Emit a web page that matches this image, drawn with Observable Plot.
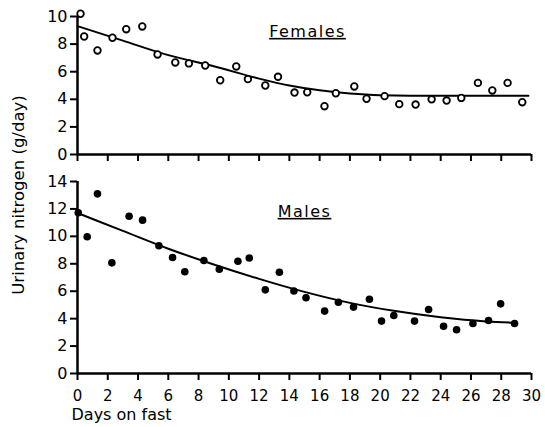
<!DOCTYPE html>
<html><head><meta charset="utf-8">
<script src="https://cdn.jsdelivr.net/npm/d3@7"></script>
<script src="https://cdn.jsdelivr.net/npm/@observablehq/plot@0.6"></script>
<style>
body{margin:0;background:#fff;}
#wrap{position:relative;width:545px;height:427px;font-family:"DejaVu Sans";color:#000;}
#topPanel,#bottomPanel{position:absolute;left:0;}
#topPanel{top:0}
#bottomPanel{top:170px}
#ylab{position:absolute;left:18px;top:195px;transform:translate(-50%,-50%) rotate(-90deg);white-space:nowrap;font-size:16.5px;font-family:"DejaVu Sans";}
svg{overflow:visible}
</style></head>
<body><div id="wrap"><div id="topPanel"></div><div id="bottomPanel"></div><div id="ylab">Urinary nitrogen (g/day)</div></div>
<script>
const xTicks = [0,2,4,6,8,10,12,14,16,18,20,22,24,26,28,30];
const yTicksTop = [0,2,4,6,8,10];
const yTicksBottom = [0,2,4,6,8,10,12,14];

const femaleDays = [0.2,0.44,1.32,2.31,3.22,4.28,5.29,6.46,7.36,8.44,9.43,10.49,11.26,12.41,13.25,14.34,15.18,16.32,17.07,18.29,19.1,20.29,21.26,22.34,23.4,24.39,25.36,26.46,27.41,28.42,29.39];
const femaleN    = [10.2,8.55,7.54,8.46,9.08,9.28,7.25,6.67,6.6,6.45,5.38,6.38,5.46,5.0,5.63,4.49,4.51,3.5,4.44,4.93,4.04,4.23,3.65,3.62,4.0,3.91,4.1,5.19,4.64,5.19,3.79];
const femaleFitDays = [0,3,6,9,12,14,16,18,20,24,29.8];
const femaleFit     = [9.3,8.25,7.2,6.4,5.5,5.0,4.65,4.42,4.3,4.25,4.25];

const maleDays = [0.05,0.64,1.32,2.27,3.41,4.3,5.38,6.28,7.09,8.35,9.37,10.6,11.35,12.41,13.34,14.3,15.1,16.33,17.24,18.24,19.29,20.09,20.9,22.27,23.2,24.19,25.05,26.13,27.16,27.96,28.88];
const maleN    = [11.72,9.97,13.1,8.07,11.47,11.18,9.31,8.46,7.42,8.24,7.6,8.19,8.42,6.1,7.38,6.02,5.52,4.55,5.2,4.84,5.41,3.82,4.23,3.82,4.67,3.45,3.19,3.65,3.87,5.08,3.65];
const maleFitDays = [0,3,6,9,12,15,18,21,24,27,28.9];
const maleFit     = [11.7,10.4,9.1,7.95,6.9,5.95,5.15,4.55,4.1,3.8,3.7];

const females = femaleDays.map((d,i)=>({day:d, n:femaleN[i]}));
const femalesFit = femaleFitDays.map((d,i)=>({day:d, n:femaleFit[i]}));
const males = maleDays.map((d,i)=>({day:d, n:maleN[i]}));
const malesFit = maleFitDays.map((d,i)=>({day:d, n:maleFit[i]}));

const baseStyle = {fontFamily:"DejaVu Sans", fontSize:"16px", color:"black", background:"white", overflow:"visible"};

const topPlot = Plot.plot({
  width:545, height:170, marginLeft:77, marginRight:14, marginTop:16, marginBottom:16,
  style: baseStyle,
  x:{domain:[0,30]}, y:{domain:[0,10]},
  marks:[
    Plot.axisX(xTicks, {tickSize:7, tickFormat:()=>"", strokeWidth:2, label:null}),
    Plot.axisY(yTicksTop, {tickSize:7, tickPadding:3, strokeWidth:2, label:null, fontSize:16}),
    Plot.ruleY([0], {strokeWidth:2.5}),
    Plot.ruleX([0], {strokeWidth:2.5}),
    Plot.line(femalesFit, {x:"day", y:"n", curve:"monotone-x", strokeWidth:2, stroke:"black"}),
    Plot.dot(females, {x:"day", y:"n", r:3.3, stroke:"black", strokeWidth:1.8, fill:"white"}),
    Plot.text(["Females"], {frameAnchor:"top", dx:3, dy:9, fontSize:16, fill:"black"})
  ]
});

const bottomPlot = Plot.plot({
  width:545, height:257, marginLeft:77, marginRight:14, marginTop:11, marginBottom:54,
  style: baseStyle,
  x:{domain:[0,30]}, y:{domain:[0,14]},
  marks:[
    Plot.axisX(xTicks, {tickSize:7, tickPadding:10, strokeWidth:2, label:null, fontSize:15}),
    Plot.axisY(yTicksBottom, {tickSize:7, tickPadding:3, strokeWidth:2, label:null, fontSize:16}),
    Plot.ruleY([0], {strokeWidth:2.5}),
    Plot.ruleX([0], {strokeWidth:2.5}),
    Plot.line(malesFit, {x:"day", y:"n", curve:"monotone-x", strokeWidth:2, stroke:"black"}),
    Plot.dot(males, {x:"day", y:"n", r:3.8, fill:"black"}),
    Plot.text(["Males"], {frameAnchor:"top", dy:24, fontSize:16, fill:"black"}),
    Plot.text(["Days on fast"], {frameAnchor:"bottom-left", dx:-6, dy:46, textAnchor:"start", fontSize:16, fill:"black"})
  ]
});

document.getElementById("topPanel").appendChild(topPlot);
document.getElementById("bottomPanel").appendChild(bottomPlot);

d3.selectAll("svg text").filter(function(){ const t=this.textContent; return t==="Females"||t==="Males"; })
  .style("text-decoration","underline").style("letter-spacing","1.5px");
</script>
</body></html>
